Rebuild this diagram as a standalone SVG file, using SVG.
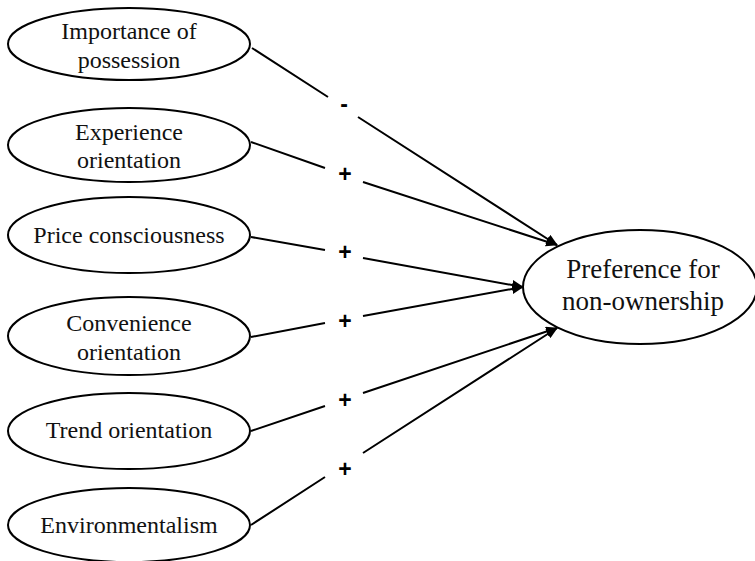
<svg xmlns="http://www.w3.org/2000/svg" width="755" height="561" viewBox="0 0 755 561">
<style>
.n{fill:#fff;stroke:#000;stroke-width:2}
.t{font-family:"Liberation Serif","Times New Roman",serif;font-size:24px;fill:#111;text-anchor:middle}
.tb{font-family:"Liberation Serif","Times New Roman",serif;font-size:27px;fill:#111;text-anchor:middle}
.c{fill:none;stroke:#000;stroke-width:2}
.s{font-family:"Liberation Sans",Arial,sans-serif;font-size:23px;font-weight:bold;fill:#000;text-anchor:middle}
</style>
<defs>
<marker id="ah" markerWidth="12" markerHeight="10" refX="11" refY="5" orient="auto" markerUnits="userSpaceOnUse">
<path d="M0,0 L12,5 L0,10 Z" fill="#000"/>
</marker>
</defs>
<rect width="755" height="561" fill="#fff"/>
<g id="connectors">
<path class="c" d="M252,48 L328,97 M358,117 L557,245" marker-end="url(#ah)"/>
<path class="c" d="M251,142 L325,168 M363,182 L557,245" marker-end="url(#ah)"/>
<path class="c" d="M251,237 L325,250 M363,258 L523,287" marker-end="url(#ah)"/>
<path class="c" d="M251,337 L325,323 M363,316 L523,287" marker-end="url(#ah)"/>
<path class="c" d="M251,431 L325,406 M363,393 L557,328" marker-end="url(#ah)"/>
<path class="c" d="M251,525 L325,477 M363,453 L557,328" marker-end="url(#ah)"/>
<text class="s" x="344" y="112">-</text>
<text class="s" x="345" y="182">+</text>
<text class="s" x="345" y="260">+</text>
<text class="s" x="345" y="329">+</text>
<text class="s" x="345" y="408">+</text>
<text class="s" x="345" y="477">+</text>
</g>
<g id="importance">
<ellipse class="n" cx="129" cy="44" rx="121" ry="36"/>
<text class="t" x="129" y="39">Importance of</text>
<text class="t" x="129" y="68">possession</text>
</g>
<g id="experience">
<ellipse class="n" cx="129" cy="145" rx="121" ry="37"/>
<text class="t" x="129" y="140">Experience</text>
<text class="t" x="129" y="168">orientation</text>
</g>
<g id="price">
<ellipse class="n" cx="129" cy="235" rx="121" ry="38"/>
<text class="t" x="129" y="243">Price consciousness</text>
</g>
<g id="convenience">
<ellipse class="n" cx="129" cy="336" rx="121" ry="39"/>
<text class="t" x="129" y="331">Convenience</text>
<text class="t" x="129" y="360">orientation</text>
</g>
<g id="trend">
<ellipse class="n" cx="129" cy="431" rx="121" ry="38"/>
<text class="t" x="129" y="438">Trend orientation</text>
</g>
<g id="environmentalism">
<ellipse class="n" cx="129" cy="525" rx="121" ry="37"/>
<text class="t" x="129" y="533">Environmentalism</text>
</g>
<g id="preference">
<ellipse class="n" cx="640" cy="287" rx="117" ry="57"/>
<text class="tb" x="643" y="278">Preference for</text>
<text class="tb" x="643" y="310">non-ownership</text>
</g>
</svg>
